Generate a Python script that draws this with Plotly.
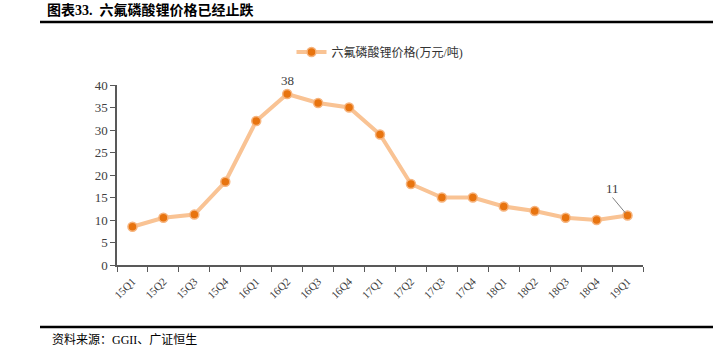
import plotly.graph_objects as go

categories = ["15Q1","15Q2","15Q3","15Q4","16Q1","16Q2","16Q3","16Q4","17Q1","17Q2",
              "17Q3","17Q4","18Q1","18Q2","18Q3","18Q4","19Q1"]
prices = [8.5, 10.5, 11.2, 18.5, 32, 38, 36, 35, 29, 18, 15, 15, 13, 12, 10.5, 10, 11]
series_name = "六氟磷酸锂价格(万元/吨)"
title_text = "图表33.  六氟磷酸锂价格已经止跌"
source_text = "资料来源：GGII、广证恒生"

W, H = 713, 352
L, R, T, B = 117, 643, 85, 265

def px(x):
    return (x - L) / (R - L)

def py(y):
    return (B - y) / (B - T)

FONT = "Liberation Serif, Noto Sans CJK SC, serif"

fig = go.Figure()
fig.add_trace(go.Scatter(
    x=categories, y=prices, mode="lines+markers", name=series_name,
    line=dict(color="#F9C394", width=4),
    marker=dict(color="#E8740F", size=9, line=dict(color="#F6B47E", width=1.5)),
))

fig.update_layout(
    width=W, height=H,
    margin=dict(l=L, r=W - R, t=T, b=H - B, pad=0),
    paper_bgcolor="white", plot_bgcolor="white",
    font=dict(family=FONT, size=12, color="#404040"),
    showlegend=True,
    legend=dict(orientation="h", x=0.5, xanchor="center", y=py(52), yanchor="middle",
                font=dict(size=12, color="#333"), bgcolor="rgba(0,0,0,0)"),
    xaxis=dict(type="category", showgrid=False, showline=True, linecolor="#595959", linewidth=1.5,
               ticks="outside", tickson="boundaries", ticklen=5, tickcolor="#595959",
               tickangle=-45, tickfont=dict(size=11, color="#404040"), ticklabelstandoff=4,
               range=[-0.5, len(categories) - 0.5]),
    yaxis=dict(range=[0, 40], dtick=5, showgrid=False, showline=True, linecolor="#595959", linewidth=1.5,
               ticks="outside", ticklen=5, tickcolor="#595959", tickfont=dict(size=13, color="#404040"),
               zeroline=False),
    shapes=[
        dict(type="line", xref="paper", yref="paper", x0=px(40), x1=px(713), y0=py(22), y1=py(22),
             line=dict(color="black", width=2.5)),
        dict(type="line", xref="paper", yref="paper", x0=px(40), x1=px(713), y0=py(327), y1=py(327),
             line=dict(color="black", width=2.5)),
    ],
    annotations=[
        dict(text="<b>" + title_text + "</b>", xref="paper", yref="paper", x=px(45), y=py(10),
             xanchor="left", yanchor="middle", showarrow=False,
             font=dict(size=14, color="black", family=FONT)),
        dict(text=source_text, xref="paper", yref="paper", x=px(50), y=py(340),
             xanchor="left", yanchor="middle", showarrow=False,
             font=dict(size=12, color="black", family=FONT)),
        dict(text="38", x=categories[5], y=prices[5], xref="x", yref="y", showarrow=False,
             yshift=14, font=dict(size=13, color="#404040")),
        dict(text="11", x=categories[-1], y=prices[-1], xref="x", yref="y", showarrow=True,
             ax=-15, ay=-18, arrowhead=0, arrowcolor="#808080", arrowwidth=1, standoff=3,
             font=dict(size=13, color="#404040"), yanchor="bottom"),
    ],
)

fig.write_html("out.html")
